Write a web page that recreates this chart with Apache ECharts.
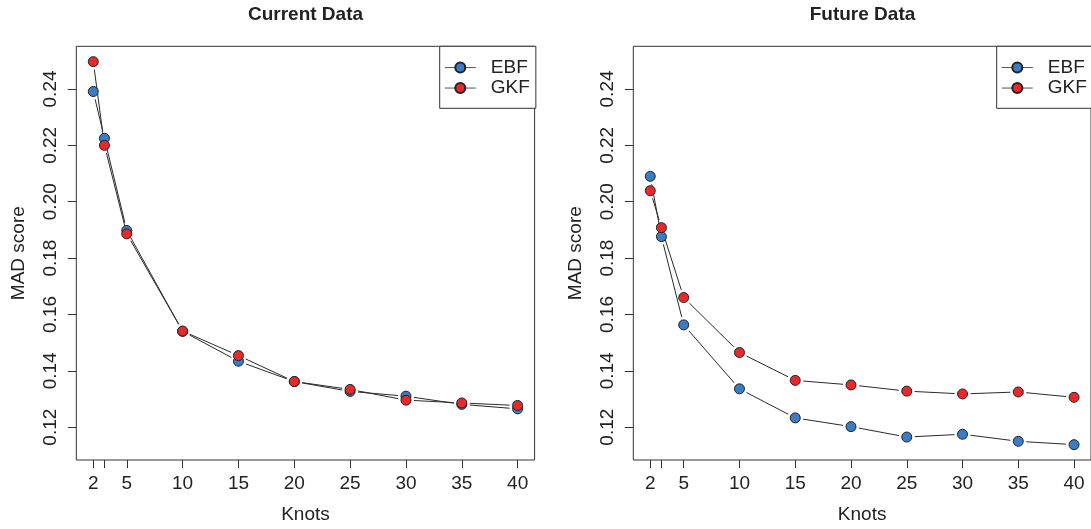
<!DOCTYPE html>
<html>
<head>
<meta charset="utf-8">
<title>MAD score vs knots</title>
<script src="https://cdn.jsdelivr.net/npm/echarts@6/dist/echarts.min.js"></script>
<style>
    html, body { margin: 0; padding: 0; background: #fff; }
    #chart { width: 1091px; height: 529px; }
</style>
</head>
<body>
<div id="chart"></div>
<script>
var knots = [2, 3, 5, 10, 15, 20, 25, 30, 35, 40];
var currentEBF = [0.2391, 0.2225, 0.1898, 0.1540, 0.1434, 0.1362, 0.1327, 0.1310, 0.1281, 0.1265];
var currentGKF = [0.2497, 0.2200, 0.1886, 0.1541, 0.1454, 0.1362, 0.1334, 0.1296, 0.1286, 0.1277];
var futureEBF = [0.2090, 0.1876, 0.1563, 0.1336, 0.1233, 0.1202, 0.1165, 0.1175, 0.1150, 0.1138];
var futureGKF = [0.2039, 0.1908, 0.1660, 0.1465, 0.1366, 0.1350, 0.1328, 0.1318, 0.1325, 0.1306];

var xTicks = [2, 3, 5, 10, 15, 20, 25, 30, 35, 40];
var xLabels = [2, 5, 10, 15, 20, 25, 30, 35, 40];
var yTicks = [0.12, 0.14, 0.16, 0.18, 0.20, 0.22, 0.24];

var panelTitles = ['Current Data', 'Future Data'];
var seriesNames = ['EBF', 'GKF'];

var FONT = 'Liberation Sans, Arial, Helvetica, sans-serif';
var INK = '#222';
var COLORS = { EBF: '#3b7cc4', GKF: '#e8292c' };

var myChart = echarts.init(document.getElementById('chart'));

function pairs(xs, ys) {
    return xs.map(function(x, i) { return [x, ys[i]]; });
}

// segments between consecutive points, R type="b" style (gap around each point)
function segments(xs, ys) {
    var out = [];
    for (var i = 0; i < xs.length - 1; i++) {
        out.push([xs[i], ys[i], xs[i + 1], ys[i + 1]]);
    }
    return out;
}

function renderGap(params, api) {
    var p1 = api.coord([api.value(0), api.value(1)]);
    var p2 = api.coord([api.value(2), api.value(3)]);
    var dx = p2[0] - p1[0], dy = p2[1] - p1[1];
    var len = Math.sqrt(dx * dx + dy * dy);
    var gap = 8;
    if (len <= 2 * gap) return;
    var ux = dx / len, uy = dy / len;
    return {
        type: 'line',
        shape: { x1: p1[0] + ux * gap, y1: p1[1] + uy * gap, x2: p2[0] - ux * gap, y2: p2[1] - uy * gap },
        style: { stroke: '#2a2a2a', lineWidth: 1 }
    };
}

var panels = [
    { left: 76.3, legendLeft: 439.7, data: { EBF: currentEBF, GKF: currentGKF } },
    { left: 633.3, legendLeft: 996.7, data: { EBF: futureEBF, GKF: futureGKF } }
];

var grids = [], xAxes = [], yAxes = [], series = [], titles = [], legends = [];

panels.forEach(function(p, k) {
    grids.push({
        left: p.left, top: 46.3, width: 458.3, height: 414,
        show: true, borderColor: '#333', borderWidth: 1, backgroundColor: 'transparent'
    });
    xAxes.push({
        gridIndex: k, type: 'value', min: 0.48, max: 41.52,
        name: 'Knots', nameLocation: 'middle', nameGap: 45,
        nameTextStyle: { fontFamily: FONT, fontSize: 19, color: INK },
        axisLine: { show: false },
        splitLine: { show: false },
        axisTick: { show: true, inside: false, length: 8, customValues: xTicks, lineStyle: { color: '#333' } },
        axisLabel: {
            customValues: xLabels, margin: 14,
            fontFamily: FONT, fontSize: 19, color: INK
        }
    });
    yAxes.push({
        gridIndex: k, type: 'value', min: 0.10836, max: 0.25514,
        name: 'MAD score', nameLocation: 'middle', nameGap: 48,
        nameTextStyle: { fontFamily: FONT, fontSize: 19, color: INK },
        axisLine: { show: false },
        splitLine: { show: false },
        axisTick: { show: true, inside: false, length: 8.5, customValues: yTicks, lineStyle: { color: '#333' } },
        axisLabel: {
            customValues: yTicks, rotate: 90, margin: 26,
            align: 'center', verticalAlign: 'middle',
            fontFamily: FONT, fontSize: 19, color: INK,
            formatter: function(v) { return v.toFixed(2); }
        }
    });
    titles.push({
        text: panelTitles[k], left: p.left + 229.2, top: 5, textAlign: 'center', padding: 0,
        textStyle: { fontFamily: FONT, fontSize: 19, fontWeight: 'bold', color: INK }
    });
    legends.push({
        left: p.legendLeft, top: 46.3, orient: 'vertical',
        data: seriesNames, selectedMode: false,
        itemWidth: 31, itemHeight: 12.5, itemGap: 1.5,
        padding: [11.75, 6, 10.75, 4.6],
        backgroundColor: '#fff', borderColor: '#333', borderWidth: 1, borderRadius: 0,
        lineStyle: { color: '#555', width: 1, opacity: 1 },
        textStyle: { fontFamily: FONT, fontSize: 19, color: INK, padding: [0, 0, 0, 10] }
    });
    seriesNames.forEach(function(name) {
        var ys = p.data[name];
        series.push({
            name: name + ' line', type: 'custom', xAxisIndex: k, yAxisIndex: k,
            renderItem: renderGap, encode: { x: [0, 2], y: [1, 3] },
            silent: true, data: segments(knots, ys)
        });
        series.push({
            name: name, type: 'line', xAxisIndex: k, yAxisIndex: k,
            symbol: 'circle', symbolSize: 10, silent: true,
            lineStyle: { opacity: 0 },
            itemStyle: { color: COLORS[name], borderColor: '#222', borderWidth: 1 },
            data: pairs(knots, ys)
        });
    });
});

var option = {
    backgroundColor: '#fff',
    animation: false,
    title: titles,
    legend: legends,
    grid: grids,
    xAxis: xAxes,
    yAxis: yAxes,
    series: series
};

myChart.setOption(option);
</script>
</body>
</html>
